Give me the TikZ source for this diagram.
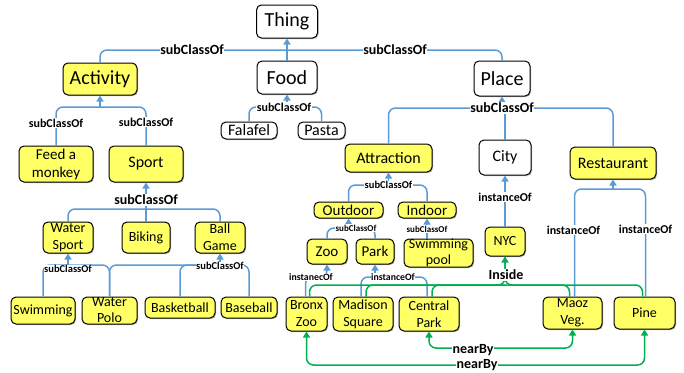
\documentclass[tikz,border=0pt]{standalone}
\usepackage{fontspec}
\setmainfont{Carlito}
\usetikzlibrary{arrows.meta,shadows}
\definecolor{lblue}{RGB}{91,155,213}
\definecolor{lgreen}{RGB}{0,176,80}
\definecolor{nyellow}{RGB}{255,255,102}
\newcommand\fsz[2]{\fontsize{#1}{#2}\selectfont}
\tikzset{
  box/.style={draw=black, line width=1pt, rounded corners=5pt, inner sep=0pt,
    drop shadow={shadow xshift=1pt, shadow yshift=-1pt, opacity=0.3, fill=black}},
  yb/.style={box, fill=nyellow},
  wb/.style={box, fill=white},
  tx/.style={inner sep=0pt, align=center, text=black},
  lbl/.style={fill=white, inner sep=0.6pt, text=black, font=\bfseries\fsz{#1}{#1}},
  bl/.style={draw=lblue, line width=1.5pt, rounded corners=7pt},
  ba/.style={bl, -{Triangle[width=7pt,length=6pt]}},
  gr/.style={draw=lgreen, line width=1.5pt, rounded corners=7pt},
  ga/.style={gr, -{Triangle[width=7pt,length=6pt]}},
  gaa/.style={gr, {Triangle[width=7pt,length=6pt]}-{Triangle[width=7pt,length=6pt]}},
}
\begin{document}
\begin{tikzpicture}[x=1pt,y=-1pt]
\useasboundingbox (0,0) rectangle (684,372);
% ---------- nodes ----------
\node[wb, minimum width=61pt, minimum height=33pt, label={[tx,font=\fsz{20}{24}]center:Thing}] (thing) at (287,21.5) {};
\node[wb, minimum width=60pt, minimum height=33pt, label={[tx,font=\fsz{20}{24}]center:Food}] (food) at (287,77.5) {};
\node[yb, minimum width=74pt, minimum height=32pt, label={[tx,font=\fsz{20}{24}]center:Activity}] (activity) at (100,79) {};
\node[wb, minimum width=56pt, minimum height=35pt, label={[tx,font=\fsz{20}{24}]center:Place}] (place) at (502,78.5) {};
\node[wb, minimum width=56pt, minimum height=17pt, label={[tx,font=\fsz{16}{19}]center:Falafel}] (falafel) at (249,130.5) {};
\node[wb, minimum width=47pt, minimum height=17pt, label={[tx,font=\fsz{16}{19}]center:Pasta}] (pasta) at (321.5,130.5) {};
\node[yb, minimum width=74pt, minimum height=36pt, label={[tx,font=\fsz{15}{18}]center:{Feed a\\monkey}}] (feed) at (56,164) {};
\node[yb, minimum width=74pt, minimum height=36pt, label={[tx,font=\fsz{16}{19}]center:Sport}] (sport) at (146,164) {};
\node[yb, minimum width=87pt, minimum height=28pt, label={[tx,font=\fsz{16}{19}]center:Attraction}] (attraction) at (388.5,158) {};
\node[wb, minimum width=52pt, minimum height=35pt, label={[tx,font=\fsz{16}{19}]center:City}] (city) at (505,157.5) {};
\node[yb, minimum width=86pt, minimum height=32pt, label={[tx,font=\fsz{16}{19}]center:Restaurant}] (restaurant) at (613,163) {};
\node[yb, minimum width=50pt, minimum height=31pt, label={[tx,font=\fsz{14}{17}]center:{Water\\Sport}}] (wsport) at (68,237.5) {};
\node[yb, minimum width=48pt, minimum height=31pt, label={[tx,font=\fsz{14}{17}]center:Biking}] (biking) at (146,237.5) {};
\node[yb, minimum width=50pt, minimum height=31pt, label={[tx,font=\fsz{14}{17}]center:{Ball\\Game}}] (ballgame) at (220,237.5) {};
\node[yb, minimum width=64pt, minimum height=27pt, label={[tx,font=\fsz{14}{17}]center:Swimming}] (swimming) at (43,310.5) {};
\node[yb, minimum width=55pt, minimum height=27pt, label={[tx,font=\fsz{14}{16}]center:{Water\\Polo}}] (wpolo) at (109.5,310.5) {};
\node[yb, minimum width=70pt, minimum height=21pt, label={[tx,font=\fsz{14}{17}]center:Basketball}] (basketball) at (180,307.5) {};
\node[yb, minimum width=56pt, minimum height=21pt, label={[tx,font=\fsz{14}{17}]center:Baseball}] (baseball) at (249,307.5) {};
\node[yb, minimum width=69pt, minimum height=16pt, label={[tx,font=\fsz{15}{18}]center:Outdoor}] (outdoor) at (348.5,210) {};
\node[yb, minimum width=58pt, minimum height=16pt, label={[tx,font=\fsz{15}{18}]center:Indoor}] (indoor) at (427,210) {};
\node[yb, minimum width=40pt, minimum height=25pt, label={[tx,font=\fsz{15}{18}]center:Zoo}] (zoo) at (327,251.5) {};
\node[yb, minimum width=38pt, minimum height=25pt, label={[tx,font=\fsz{15}{18}]center:Park}] (park) at (375,251.5) {};
\node[yb, minimum width=69pt, minimum height=28pt, label={[tx,font=\fsz{14}{16}]center:{Swimming\\pool}}] (spool) at (438.5,253) {};
\node[yb, minimum width=41pt, minimum height=34pt, label={[tx,font=\fsz{14}{17}]center:{Bronx\\Zoo}}] (bronx) at (306.5,314) {};
\node[yb, minimum width=60pt, minimum height=34pt, label={[tx,font=\fsz{14}{17}]center:{Madison\\Square}}] (madison) at (363,314) {};
\node[yb, minimum width=60pt, minimum height=34pt, label={[tx,font=\fsz{14}{17}]center:{Central\\Park}}] (central) at (429,314) {};
\node[yb, minimum width=40pt, minimum height=29pt, label={[tx,font=\fsz{14}{17}]center:NYC}] (nyc) at (505,241.5) {};
\node[yb, minimum width=59pt, minimum height=32pt, label={[tx,font=\fsz{14}{17}]center:{Maoz\\Veg.}}] (maoz) at (572.5,313) {};
\node[yb, minimum width=61pt, minimum height=32pt, label={[tx,font=\fsz{14}{17}]center:Pine}] (pine) at (644.5,313) {};
% ---------- junctions ----------
\coordinate (jThing) at (287,50);
\coordinate (jAct) at (100,107);
\coordinate (jFood) at (287,107);
\coordinate (jPlace) at (502,108);
\coordinate (jSport) at (146,209);
\coordinate (jWS) at (68,265);
\coordinate (jBG) at (220,265);
\coordinate (jAttr) at (388.5,185);
\coordinate (jOut) at (348.5,228);
\coordinate (jZoo) at (327,277);
\coordinate (jPark) at (375,277);
\coordinate (jRest) at (613,189);
\coordinate (jIn) at (505,285);
\coordinate (nb1) at (473,348);
\coordinate (nb2) at (477,365);
% ---------- blue edges ----------
\draw[bl] (activity.north) |- (jThing) -| (place.north);
\draw[bl] (food.north) -- (jThing);
\draw[ba] (jThing) -- (thing.south);
\draw[bl] (feed.north) |- (jAct) -| (sport.north);
\draw[ba] (jAct) -- (activity.south);
\draw[bl] (falafel.north) |- (jFood) -| (pasta.north);
\draw[ba] (jFood) -- (food.south);
\draw[bl] (attraction.north) |- (jPlace) -| (restaurant.north);
\draw[bl] (city.north) -- (city.north |- jPlace);
\draw[ba] (jPlace) -- (place.south);
\draw[bl] (wsport.north) |- (jSport) -| (ballgame.north);
\draw[bl] (biking.north) -- (jSport);
\draw[ba] (jSport) -- (sport.south);
\draw[bl] (swimming.north) |- (jWS);
\draw[bl] (wpolo.north) |- (jWS);
\draw[bl] (wpolo.north) |- (jBG);
\draw[bl] (basketball.north) |- (jBG);
\draw[bl] (baseball.north) |- (jBG);
\draw[ba] (jWS) -- (wsport.south);
\draw[ba] (jBG) -- (ballgame.south);
\draw[bl] (outdoor.north) |- (jAttr) -| (indoor.north);
\draw[ba] (jAttr) -- (attraction.south);
\draw[bl] (zoo.north) |- (jOut) -| (park.north);
\draw[ba] (jOut) -- (outdoor.south);
\draw[ba] (indoor.south |- spool.north) -- (indoor.south);
\draw[ba] ([xshift=-1pt]bronx.north) |- (jZoo) -- (zoo.south);
\draw[bl] ([xshift=-2pt]madison.north) |- (jPark);
\draw[bl] ([xshift=-2pt]central.north) |- (jPark);
\draw[ba] (jPark) -- (park.south);
\draw[ba] (nyc.north) -- (city.south);
\draw[bl] ([xshift=2pt]maoz.north) |- (jRest) -| ([xshift=1pt]pine.north);
\draw[ba] (jRest) -- (restaurant.south);
% ---------- green edges ----------
\draw[ga] ([xshift=3pt]bronx.north) |- (jIn) -- (nyc.south);
\draw[gr] ([xshift=3pt]madison.north) |- (jIn);
\draw[gr] ([xshift=3pt]central.north) |- (jIn);
\draw[gr] ([xshift=-3pt]maoz.north) |- (jIn) -- (nyc.south);
\draw[gr] ([xshift=-2pt]pine.north) |- (jIn);
\draw[gaa] (central.south) |- (nb1) -| (maoz.south);
\draw[gaa] (bronx.south) |- (nb2) -| (pine.south);
% ---------- labels ----------
\node[lbl=14] (l1) at (192,50) {subClassOf};
\node[lbl=14] (l2) at (395,50) {subClassOf};
\node[lbl=12] (l3) at (56,123) {subClassOf};
\node[lbl=12] (l4) at (146,122) {subClassOf};
\node[lbl=12] (l5) at (284,107) {subClassOf};
\node[lbl=14] (l6) at (502,108) {subClassOf};
\node[lbl=14] (l7) at (146,200) {subClassOf};
\node[lbl=10.5] (l8) at (68,269) {subClassOf};
\node[lbl=10.5] (l9) at (220,266) {subClassOf};
\node[lbl=10.5] (l10) at (388.5,185) {subClassOf};
\node[lbl=9] (l11) at (356,228) {subClassOf};
\node[lbl=9] (l12) at (427,229) {subClassOf};
\node[lbl=9.8] (l13) at (311,277) {instanecOf};
\node[lbl=9.8] (l14) at (393,277) {instanceOf};
\node[lbl=12] (l15) at (505,197) {instanceOf};
\node[lbl=12] (l16) at (573.5,230) {instanceOf};
\node[lbl=12] (l17) at (645.5,229) {instanceOf};
\node[lbl=14] (l18) at (506,275) {Inside};
\node[lbl=14] (l19) at (473,350) {nearBy};
\node[lbl=14] (l20) at (477,365) {nearBy};
\end{tikzpicture}
\end{document}
